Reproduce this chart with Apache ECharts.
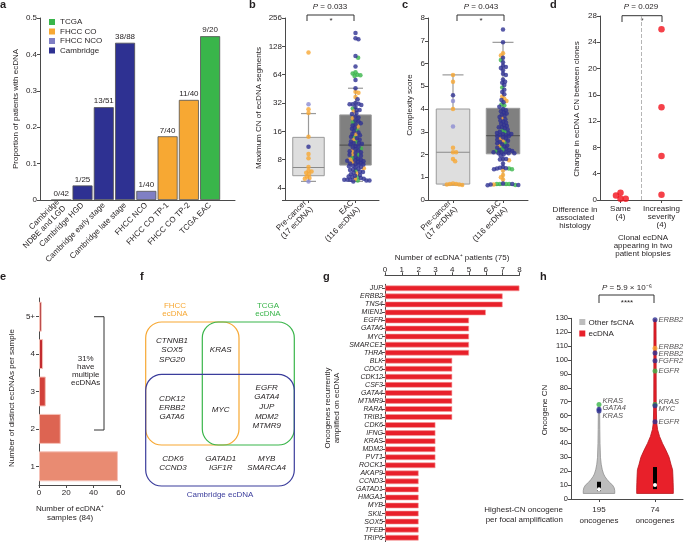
<!DOCTYPE html>
<html><head><meta charset="utf-8">
<script src="https://cdn.jsdelivr.net/npm/echarts@6/dist/echarts.min.js"></script>
<style>html,body{margin:0;padding:0;background:#fff}#c{width:685px;height:542px}</style>
</head><body><div id="c"></div>
<script>
// ================= DATA =================
// Panel a
const aCategories = ['Cambridge\nNDBE and LGD','Cambridge HGD','Cambridge early stage','Cambridge late stage','FHCC NCO','FHCC CO TP-1','FHCC CO TP-2','TCGA EAC'];
const aValues = [0, 0.04, 0.255, 0.432, 0.025, 0.175, 0.275, 0.45];
const aLabels = ['0/42','1/25','13/51','38/88','1/40','7/40','11/40','9/20'];
const aCohort = ['Cambridge','Cambridge','Cambridge','Cambridge','FHCC NCO','FHCC CO','FHCC CO','TCGA'];
const aLegend = ['TCGA','FHCC CO','FHCC NCO','Cambridge'];

// Panels b, c (box: [min, q1, median, q3, max])
const boxCategories = ['Pre-cancer\n(17 ecDNA)','EAC\n(116 ecDNA)'];
const bBoxPre = [4.7, 5.4, 6.6, 13.8, 24.7];
const bBoxEAC = [4.7, 7.0, 11.4, 23.9, 45.9];
const bPre = {
  F:[110,27.5,25,14,9.2,8.3,6.7,6.1,6.0,5.8,5.6,5.3,5.1,5.0],
  C:[11],
  N:[31,4.7]
};
const bEAC = {
  T:[97,68,66,64,63,62,28,20,16.5,14,12.5,10.5,9,8.4,6.1,5.2,4.8],
  F:[42,41,37,26,22,18,15,13,10,9.2,8,7.5,6.5,5.7,5.0],
  C:[177,156,152,101,78,56,46,35,32,31.5,31,31,30.5,29,27,27,25,24.5,
     23,22.5,21,20.5,19.5,19,18.5,17.5,17,16,15.5,15,14.5,14,13.5,13,12.5,12,12,11.8,11.6,
     11.2,11,10.8,10.3,10,9.8,9.6,9.4,9,8.8,8.6,8.2,8,7.9,7.8,7.7,7.6,7.4,7.3,7.2,7.1,7.0,
     6.9,6.8,6.7,6.6,6.4,6.3,6.2,6.0,5.9,5.8,5.6,5.5,5.4,5.3,5.2,5.1,5.0,4.9,4.9,4.9,4.8,4.8,4.7]
};
const cBoxPre = [0.65, 0.7, 2.1, 4.0, 5.5];
const cBoxEAC = [0.65, 2.03, 2.83, 4.03, 6.93];
const cPre = {
  F:[5.5,5.2,4.0,2.3,2.1,2.1,1.8,1.7,0.72,0.7,0.7,0.68,0.68,0.66],
  C:[4.6],
  N:[4.35,3.23]
};
const cEAC = {
  T:[6.15,4.95,4.2,4.15,3.05,3.0,2.5,2.3,2.2,2.15,1.38,1.35,0.7,0.7,0.7,0.7,0.66],
  F:[6.45,6.35,4.55,4.45,4.35,3.6,2.7,2.6,2.4,1.75,1.3,1.1,1.0,0.9,0.68],
  C:[7.5,6.93,6.25,6.05,5.9,5.85,5.8,5.7,5.55,5.5,5.3,5.2,5.15,5.05,4.85,4.75,4.65,4.4,4.3,4.1,
     4.0,3.95,3.9,3.85,3.8,3.75,3.7,3.65,3.55,3.5,3.45,3.4,3.35,3.3,3.25,3.2,3.2,3.15,3.1,3.0,2.95,2.95,2.9,2.9,2.85,2.85,
     2.8,2.8,2.75,2.7,2.65,2.6,2.55,2.5,2.45,2.4,2.35,2.3,2.25,2.2,2.2,2.15,2.1,2.1,2.1,2.05,2.05,2.05,
     2.0,1.95,1.8,1.8,1.78,1.6,1.45,1.42,1.4,1.38,1.35,0.72,0.7,0.68,0.66,0.65]
};

// Panel d
const dCategories = ['Same\n(4)','Increasing\nseverity\n(4)'];
const dSame = [1.1, 0.2, 0.2, 0.7];
const dIncreasing = [26, 14.1, 6.7, 0.8];

// Panel e
const eCategories = ['1','2','3','4','5+'];
const eValues = [58, 16, 5, 3, 2];

// Panel g
const gGenes = ['JUP','ERBB2','TNS4','MIEN1','EGFR','GATA6','MYC','SMARCE1','THRA','BLK','CDC6','CDK12','CSF3','GATA4','MTMR9','RARA','TRIB1','CDK6','IFNG','KRAS','MDM2','PVT1','ROCK1','AKAP9','CCND3','GATAD1','HMGA1','MYB','SKIL','SOX5','TFEB','TRIP6'];
const gCounts = [8,7,7,6,5,5,5,5,5,4,4,4,4,4,4,4,4,3,3,3,3,3,3,2,2,2,2,2,2,2,2,2];

// Panel h
const hCategories = ['195\noncogenes','74\noncogenes'];
const hViolinCN = [
  [4,6,8,10,12,14,16,18,21,25,30,40,50,66],
  [4,8,12,16,21,25,30,35,40,45,50,55,70,129]
];
const hViolinDensity = [
  [0.86,0.86,0.83,0.74,0.57,0.44,0.33,0.25,0.18,0.12,0.08,0.055,0.044,0.033],
  [1,1,0.99,0.98,0.96,0.87,0.77,0.6,0.41,0.25,0.14,0.09,0.066,0.055]
];
const hBoxStats = [[5.7,7.1,12.4],[7.1,10,23]]; // q1, median, q3
const hPointCat = [0,0,0,1,1,1,1,1,1,1,1];
const hPointCN = [68,64.5,63.3,129,108.4,105,99.5,92,68,67,55.6];
const hPointGene = ['KRAS','GATA4','KRAS','ERBB2','ERBB2','ERBB2','FGFR2','EGFR','KRAS','MYC','EGFR'];
const hPointSrc = ['T','C','C','C','F','C','C','T','T','C','C'];

// ================= STYLE =================
const FONT = '"Liberation Sans", Arial, sans-serif';
const TXT = '#231f20';
const AX = '#4a4a4a';
const SRC_COLORS = {C:'#2e3192', T:'#39b54a', F:'#f7a833', N:'#8c8cd2'};
const COHORT_COLORS = {'Cambridge':'#2e3192','FHCC NCO':'#7f7fc4','FHCC CO':'#f7a833','TCGA':'#39b54a'};
const E_COLORS = ['#e98b72','#dd6452','#d2413a','#c22b2f','#a61f24'];

function ax(o) {
  const base = {
    axisLine:{show:true, onZero:false, lineStyle:{color:AX, width:1}},
    axisTick:{show:true, length:3, inside:false, lineStyle:{color:AX, width:1}},
    axisLabel:{fontSize:8, color:TXT, fontFamily:FONT, margin:3},
    splitLine:{show:false}, minorTick:{show:false}, minorSplitLine:{show:false}
  };
  const r = Object.assign({}, base, o);
  r.axisLine = Object.assign({}, base.axisLine, o.axisLine || {});
  r.axisTick = Object.assign({}, base.axisTick, o.axisTick || {});
  r.axisLabel = Object.assign({}, base.axisLabel, o.axisLabel || {});
  return r;
}
function hiddenVal(grid) {
  return {gridIndex:grid, type:'value', min:-0.5, max:1.5, show:false, splitLine:{show:false}};
}
function txt(x, y, text, o) {
  o = o || {};
  return {
    type:'text', x:x, y:y, rotation:o.rotation || 0, silent:true,
    style:Object.assign({text:text, fill:TXT, fontSize:8, fontFamily:FONT, align:'center', verticalAlign:'middle', lineHeight:9}, o.style || {})
  };
}
function line(points, o) {
  return {type:'polyline', silent:true, shape:{points:points}, style:Object.assign({stroke:'#333', lineWidth:1, fill:null}, o || {})};
}
function rrect(x, y, w, h, color) {
  return {type:'rect', silent:true, shape:{x:x, y:y, width:w, height:h, r:16}, style:{fill:null, stroke:color, lineWidth:1.2}};
}
const ROT = Math.PI / 2;
const RICH_P = {i:{fontStyle:'italic', fontSize:8, fontFamily:FONT, fill:TXT}};

function boxRender(fills, medColors, capRatio) {
  return function (params, api) {
    const c = api.value(0);
    const p = k => api.coord([c, api.value(k)]);
    const pMin = p(1), pQ1 = p(2), pMed = p(3), pQ3 = p(4), pMax = p(5);
    const band = api.size([1, 0])[0];
    const bw = band * 0.67, cw = band * capRatio;
    const x = pMin[0];
    const ws = {stroke:'#9a9a9a', lineWidth:1.2};
    return {type:'group', children:[
      {type:'line', shape:{x1:x, y1:pMax[1], x2:x, y2:pQ3[1]}, style:ws},
      {type:'line', shape:{x1:x, y1:pQ1[1], x2:x, y2:pMin[1]}, style:ws},
      {type:'line', shape:{x1:x - cw/2, y1:pMax[1], x2:x + cw/2, y2:pMax[1]}, style:ws},
      {type:'line', shape:{x1:x - cw/2, y1:pMin[1], x2:x + cw/2, y2:pMin[1]}, style:ws},
      {type:'rect', shape:{x:x - bw/2, y:pQ3[1], width:bw, height:pQ1[1] - pQ3[1]}, style:{fill:fills[params.dataIndex], stroke:'#9a9a9a', lineWidth:1}},
      {type:'line', shape:{x1:x - bw/2, y1:pMed[1], x2:x + bw/2, y2:pMed[1]}, style:{stroke:medColors[params.dataIndex], lineWidth:1.2}}
    ]};
  };
}

const V_FILL = ['#bdbdbd', '#e8202a'];
const V_STROKE = ['#8f8f8f', '#b8141c'];
function violinRender(params, api) {
  const i = params.dataIndex;
  const cns = hViolinCN[i], dens = hViolinDensity[i];
  const band = api.size([1, 0])[0];
  const half = band * 0.327;
  const left = [], right = [];
  cns.forEach((cn, k) => {
    const pt = api.coord([i, cn]);
    left.push([pt[0] - dens[k] * half, pt[1]]);
    right.push([pt[0] + dens[k] * half, pt[1]]);
  });
  const pts = left.concat(right.reverse());
  const st = hBoxStats[i];
  const q1 = api.coord([i, st[0]]), med = api.coord([i, st[1]]), q3 = api.coord([i, st[2]]);
  return {type:'group', children:[
    {type:'polygon', shape:{points:pts}, style:{fill:V_FILL[i], stroke:V_STROKE[i], lineWidth:0.8}},
    {type:'rect', shape:{x:q1[0] - 2, y:q3[1], width:4, height:q1[1] - q3[1]}, style:{fill:'#000'}},
    {type:'circle', shape:{cx:med[0], cy:med[1], r:2}, style:{fill:'#fff'}}
  ]};
}

// ================= OPTION =================
const aSeries = ['Cambridge','FHCC NCO','FHCC CO','TCGA'].map(name => ({
  name:name, type:'bar', xAxisIndex:0, yAxisIndex:0, barWidth:20, barGap:'-100%',
  itemStyle:{color:COHORT_COLORS[name], borderColor:'#505050', borderWidth:0.8},
  label:{show:true, position:'top', distance:2, fontSize:8, color:TXT, fontFamily:FONT, formatter:p => aLabels[p.value[0]]},
  data:aValues.map((v, i) => aCohort[i] === name ? [i, v] : null).filter(d => d)
}));

const option = {
  animation:false,
  backgroundColor:'#ffffff',
  textStyle:{fontFamily:FONT, color:TXT},
  grid:[
    {left:40, top:18, width:195, height:182, outerBoundsMode:'none'},
    {left:285, top:18, width:94, height:182, outerBoundsMode:'none'},
    {left:428, top:18, width:100, height:182, outerBoundsMode:'none'},
    {left:600, top:16, width:82, height:184, outerBoundsMode:'none'},
    {left:39, top:298, width:81.67, height:187, outerBoundsMode:'none'},
    {left:385, top:284.3, width:134.4, height:257.4, outerBoundsMode:'none'},
    {left:571, top:318.3, width:112, height:180.7, outerBoundsMode:'none'}
  ],
  legend:{
    data:aLegend, orient:'vertical', left:49, top:18, itemWidth:6, itemHeight:6, itemGap:1.5,
    icon:'rect', selectedMode:false, padding:0,
    itemStyle:{borderWidth:0},
    textStyle:{fontSize:8, color:TXT, fontFamily:FONT}
  },
  xAxis:[
    ax({gridIndex:0, type:'value', min:-1, max:8.17, interval:1, axisTick:{show:false},
        axisLabel:{rotate:45, margin:4, lineHeight:9, formatter:v => (Number.isInteger(v) && v >= 0 && v < aCategories.length) ? aCategories[v] : ''}}),
    ax({gridIndex:1, type:'category', data:boxCategories, axisTick:{alignWithLabel:true}, axisLabel:{rotate:45, interval:0, margin:5, lineHeight:9}}),
    hiddenVal(1),
    ax({gridIndex:2, type:'category', data:boxCategories, axisTick:{alignWithLabel:true}, axisLabel:{rotate:45, interval:0, margin:5, lineHeight:9}}),
    hiddenVal(2),
    ax({gridIndex:3, type:'category', data:dCategories, axisTick:{alignWithLabel:true}, axisLabel:{interval:0, margin:5, lineHeight:8}}),
    hiddenVal(3),
    ax({gridIndex:4, type:'value', min:0, max:60, interval:20, axisLabel:{margin:4}}),
    ax({gridIndex:5, type:'value', position:'top', offset:9, min:0, max:8, interval:1, axisLabel:{margin:2}}),
    ax({gridIndex:6, type:'category', data:hCategories, axisTick:{alignWithLabel:true}, axisLabel:{interval:0, margin:5, lineHeight:11}}),
    hiddenVal(6)
  ],
  yAxis:[
    ax({gridIndex:0, type:'value', min:0, max:0.5, interval:0.1, axisLabel:{formatter:v => v === 0 ? '0' : v.toFixed(1)}}),
    ax({gridIndex:1, type:'log', logBase:2, min:2.98, max:256,
        axisLabel:{formatter:v => { const l = Math.log2(v); return (Math.abs(l - Math.round(l)) < 1e-6 && v >= 4) ? String(Math.round(v)) : ''; }}}),
    ax({gridIndex:2, type:'value', min:0, max:8, interval:1}),
    ax({gridIndex:3, type:'value', min:0, max:28, interval:4}),
    ax({gridIndex:4, type:'category', data:eCategories, axisTick:{alignWithLabel:true}, axisLabel:{interval:0, margin:4}}),
    ax({gridIndex:5, type:'category', data:gGenes, inverse:true, axisTick:{alignWithLabel:true}, axisLabel:{interval:0, fontSize:7, fontStyle:'italic', margin:2}}),
    ax({gridIndex:6, type:'value', min:0, max:130, interval:10, axisLabel:{fontSize:7.5, margin:3}})
  ],
  series:aSeries.concat([
    {id:'bBox', type:'custom', xAxisIndex:1, yAxisIndex:1, encode:{x:0, y:[1,2,3,4,5]},
     renderItem:boxRender(['#dedede','#808080'], ['#8a8a8a','#555555'], 0.32),
     data:[[0].concat(bBoxPre), [1].concat(bBoxEAC)]},
    {id:'bDots', type:'scatter', xAxisIndex:2, yAxisIndex:1, symbolSize:4.5, data:[]},
    {id:'cBox', type:'custom', xAxisIndex:3, yAxisIndex:2, encode:{x:0, y:[1,2,3,4,5]},
     renderItem:boxRender(['#dedede','#808080'], ['#8a8a8a','#555555'], 0.42),
     data:[[0].concat(cBoxPre), [1].concat(cBoxEAC)]},
    {id:'cDots', type:'scatter', xAxisIndex:4, yAxisIndex:2, symbolSize:4.5, data:[]},
    {id:'dDots', type:'scatter', xAxisIndex:6, yAxisIndex:3, symbolSize:6.5, itemStyle:{color:'#f2121c'}, data:[],
     markLine:{silent:true, symbol:['none','none'], label:{show:false}, lineStyle:{type:'dashed', color:'#b5b5b5', width:1}, data:[{xAxis:0.5}]}},
    {id:'eBars', type:'bar', xAxisIndex:7, yAxisIndex:4, barWidth:30,
     itemStyle:{color:p => E_COLORS[p.dataIndex], borderColor:'#f6c2b8', borderWidth:1},
     data:eValues},
    {id:'gBars', type:'bar', xAxisIndex:8, yAxisIndex:5, barWidth:5.6,
     itemStyle:{color:'#e8202a', borderColor:'#f59a9a', borderWidth:0.6},
     data:gCounts},
    {id:'hViolin', type:'custom', xAxisIndex:9, yAxisIndex:6, encode:{x:0, y:1},
     renderItem:violinRender, data:[[0, 4], [1, 4]]},
    {id:'hDots', type:'scatter', xAxisIndex:10, yAxisIndex:6, symbolSize:5,
     label:{show:true, position:'right', distance:1, fontSize:7.5, fontStyle:'italic', color:TXT, fontFamily:FONT,
            formatter:p => hPointGene[p.dataIndex]},
     data:hPointCN.map((v, i) => ({value:[hPointCat[i], v], itemStyle:{color:SRC_COLORS[hPointSrc[i]]}}))}
  ]),
  graphic:{elements:[
    // panel letters
    txt(0, 4.5, 'a', {style:{fontWeight:'bold', fontSize:11, align:'left'}}),
    txt(249, 4.5, 'b', {style:{fontWeight:'bold', fontSize:11, align:'left'}}),
    txt(402, 4.5, 'c', {style:{fontWeight:'bold', fontSize:11, align:'left'}}),
    txt(550, 4.5, 'd', {style:{fontWeight:'bold', fontSize:11, align:'left'}}),
    txt(0, 277, 'e', {style:{fontWeight:'bold', fontSize:11, align:'left'}}),
    txt(140, 277, 'f', {style:{fontWeight:'bold', fontSize:11, align:'left'}}),
    txt(323, 277, 'g', {style:{fontWeight:'bold', fontSize:11, align:'left'}}),
    txt(540, 277, 'h', {style:{fontWeight:'bold', fontSize:11, align:'left'}}),
    // axis titles
    txt(15.5, 109, 'Proportion of patients with ecDNA', {rotation:ROT}),
    txt(258.5, 108, 'Maximum CN of ecDNA segments', {rotation:ROT}),
    txt(409.5, 105, 'Complexity score', {rotation:ROT}),
    txt(576.5, 109, 'Change in ecDNA CN between clones', {rotation:ROT}),
    txt(12, 398, 'Number of distinct ecDNAs per sample', {rotation:ROT}),
    txt(332, 408, 'Oncogenes recurrently\namplified on ecDNA', {rotation:ROT, style:{lineHeight:9}}),
    txt(545, 410, 'Oncogene CN', {rotation:ROT}),
    txt(70, 513.5, 'Number of ecDNA\u207A\nsamples (84)', {style:{lineHeight:9.5}}),
    txt(452, 258, 'Number of ecDNA\u207A patients (75)'),
    txt(563, 515, 'Highest-CN oncogene\nper focal amplification', {style:{align:'right', lineHeight:10.5}}),
    txt(575, 217.3, 'Difference in\nassociated\nhistology', {style:{lineHeight:8}}),
    txt(643, 245.6, 'Clonal ecDNA\nappearing in two\npatient biopsies', {style:{lineHeight:7.8}}),
    // significance brackets
    line([[307,21],[307,15],[354,15],[354,21]]),
    txt(330, 7, '{i|P} = 0.033', {style:{rich:RICH_P}}),
    txt(331, 21, '*'),
    line([[457,21],[457,15],[504,15],[504,21]]),
    txt(481, 7, '{i|P} = 0.043', {style:{rich:RICH_P}}),
    txt(481, 21, '*'),
    line([[622,22],[622,15.7],[662,15.7],[662,22]]),
    txt(641, 7, '{i|P} = 0.029', {style:{rich:RICH_P}}),
    txt(642, 21, '*'),
    line([[599,303],[599,295],[654,295],[654,303]]),
    txt(627, 287.5, '{i|P} = 5.9 \u00D7 10\u207B\u2076', {style:{rich:RICH_P}}),
    txt(627, 302.5, '****'),
    // panel e bracket
    line([[94,316.7],[104,316.7],[104,430],[94,430]]),
    txt(85.7, 371.2, '31%\nhave\nmultiple\necDNAs', {style:{lineHeight:8}}),
    // panel f Venn
    rrect(145.7, 322, 93.3, 123, '#f7a833'),
    rrect(202.3, 322, 92, 123, '#39b54a'),
    rrect(145.7, 374.3, 148.6, 111.7, '#3b3d9c'),
    txt(175, 309.5, 'FHCC\necDNA', {style:{fill:'#f7a833', lineHeight:8.3}}),
    txt(268, 309.5, 'TCGA\necDNA', {style:{fill:'#39b54a', lineHeight:8.3}}),
    txt(220, 495, 'Cambridge ecDNA', {style:{fill:'#3b3d9c'}}),
    txt(172, 350, 'CTNNB1\nSOX5\nSPG20', {style:{fontStyle:'italic', lineHeight:9.3}}),
    txt(220.7, 350, 'KRAS', {style:{fontStyle:'italic'}}),
    txt(172, 407.7, 'CDK12\nERBB2\nGATA6', {style:{fontStyle:'italic', lineHeight:9.3}}),
    txt(220.7, 409.3, 'MYC', {style:{fontStyle:'italic'}}),
    txt(266.7, 406.7, 'EGFR\nGATA4\nJUP\nMDM2\nMTMR9', {style:{fontStyle:'italic', lineHeight:9.7}}),
    txt(173, 463.3, 'CDK6\nCCND3', {style:{fontStyle:'italic', lineHeight:9.3}}),
    txt(220.7, 463.3, 'GATAD1\nIGF1R', {style:{fontStyle:'italic', lineHeight:9.3}}),
    txt(266.7, 463.3, 'MYB\nSMARCA4', {style:{fontStyle:'italic', lineHeight:9.3}}),
    // panel h legend
    {type:'rect', silent:true, shape:{x:579.3, y:319, width:6, height:6}, style:{fill:'#bdbdbd'}},
    {type:'rect', silent:true, shape:{x:579.3, y:330.5, width:6, height:6}, style:{fill:'#e8202a'}},
    txt(588.5, 322.3, 'Other fsCNA', {style:{align:'left'}}),
    txt(588.5, 333.7, 'ecDNA', {style:{align:'left'}})
  ]}
};

const chart = echarts.init(document.getElementById('c'), null, {renderer:'canvas'});
chart.setOption(option);

// ================= beeswarm layout (pixel space) =================
function swarmOffsets(ysPx, r) {
  const idx = ysPx.map((_, i) => i).sort((a, b) => ysPx[a] - ysPx[b]);
  const placed = [], out = new Array(ysPx.length);
  const d = 2 * r;
  let flip = 1;
  for (const i of idx) {
    const y = ysPx[i];
    const ivs = [];
    for (const p of placed) {
      const dy = Math.abs(p.y - y);
      if (dy < d) { const w = Math.sqrt(d * d - dy * dy); ivs.push([p.x - w, p.x + w]); }
    }
    const cands = [0];
    ivs.forEach(iv => cands.push(iv[0], iv[1]));
    cands.sort((a, b) => (Math.abs(a) - Math.abs(b)) || (flip * (b - a)));
    let x = 0;
    for (const c of cands) {
      if (ivs.every(iv => c <= iv[0] + 1e-6 || c >= iv[1] - 1e-6)) { x = c; break; }
    }
    flip = -flip;
    placed.push({x:x, y:y});
    out[i] = x;
  }
  return out;
}
function buildDots(groups, xAxisIndex, yAxisIndex, r, color) {
  const band = Math.abs(chart.convertToPixel({xAxisIndex:xAxisIndex}, 1) - chart.convertToPixel({xAxisIndex:xAxisIndex}, 0));
  const data = [];
  groups.forEach((g, cat) => {
    const pts = [];
    if (Array.isArray(g)) g.forEach(v => pts.push({v:v, c:color}));
    else Object.keys(g).forEach(k => g[k].forEach(v => pts.push({v:v, c:SRC_COLORS[k]})));
    const ys = pts.map(p => chart.convertToPixel({yAxisIndex:yAxisIndex}, p.v));
    const offs = swarmOffsets(ys, r);
    pts.forEach((p, i) => data.push({value:[cat + offs[i] / band, p.v], itemStyle:{color:p.c}}));
  });
  return data;
}

// label de-overlap for panel h (cluster spreading in pixel space)
function spreadLabels(ys, gap) {
  const idx = ys.map((_, i) => i).sort((a, b) => ys[a] - ys[b]);
  let clusters = idx.map(i => ({members:[i], top:ys[i]}));
  let changed = true;
  while (changed) {
    changed = false;
    for (let k = 0; k < clusters.length - 1; k++) {
      const a = clusters[k], b = clusters[k + 1];
      const aBottom = a.top + (a.members.length - 1) * gap;
      if (b.top - aBottom < gap) {
        const members = a.members.concat(b.members);
        const mean = members.reduce((s, m) => s + ys[m], 0) / members.length;
        clusters.splice(k, 2, {members:members, top:mean - (members.length - 1) * gap / 2});
        changed = true;
        break;
      }
    }
  }
  const out = new Array(ys.length);
  clusters.forEach(c => c.members.forEach((m, j) => { out[m] = c.top + j * gap; }));
  return out;
}
const hPy = hPointCN.map(v => chart.convertToPixel({yAxisIndex:6}, v));
const hLabelY = new Array(hPy.length);
[0, 1].forEach(cat => {
  const ids = hPy.map((_, i) => i).filter(i => hPointCat[i] === cat);
  const spread = spreadLabels(ids.map(i => hPy[i]), 7.2);
  ids.forEach((id, j) => { hLabelY[id] = spread[j]; });
});

chart.setOption({series:[
  {id:'bDots', data:buildDots([bPre, bEAC], 2, 1, 1.55)},
  {id:'cDots', data:buildDots([cPre, cEAC], 4, 2, 1.55)},
  {id:'dDots', data:buildDots([dSame, dIncreasing], 6, 3, 2.6, '#f2121c')},
  {id:'hDots', labelLayout:function (params) { return {dy:hLabelY[params.dataIndex] - hPy[params.dataIndex]}; }}
]});
</script>
</body></html>
